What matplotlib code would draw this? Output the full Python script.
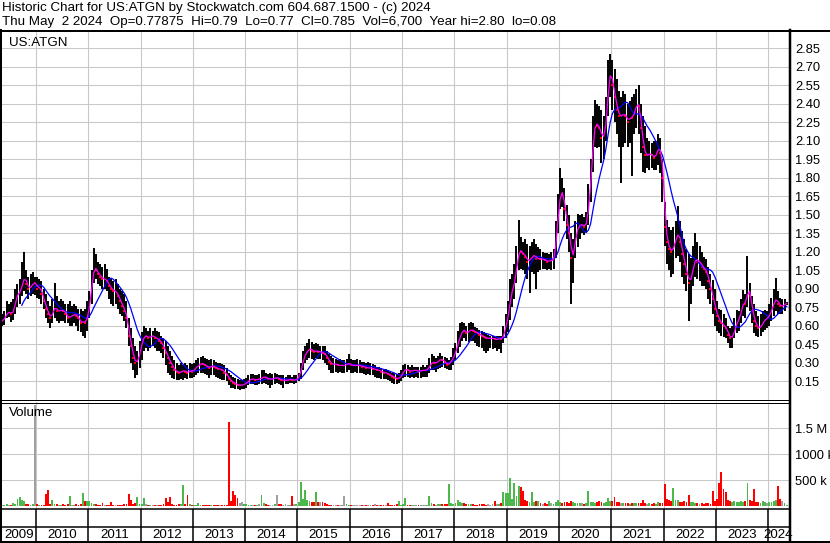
import numpy as np
import pandas as pd
import matplotlib
matplotlib.use("Agg")
import matplotlib.pyplot as plt

plt.rcParams['font.family'] = ['Liberation Sans', 'DejaVu Sans']

# Semi-monthly bars (1st / 2nd half of each month), May 2009 .. May 2024
first_period = 2009 + 4 / 12  # May 2009

high = [
    0.70, 0.72, 0.80, 0.78, 0.79, 0.82, 0.90, 0.94, 0.98, 1.12, 1.20, 1.05, 1.00, 1.02, 1.04, 1.00,  # 2009
    1.00, 0.98, 0.96, 0.90, 0.86, 0.80, 0.76, 0.82, 0.95, 0.84, 0.80, 0.82, 0.80, 0.78, 0.78, 0.80, 0.76, 0.78, 0.76, 0.74, 0.74, 0.72, 0.74, 0.80,  # 2010
    0.88, 1.05, 1.23, 1.18, 1.12, 1.10, 1.08, 1.10, 1.06, 1.00, 0.98, 0.96, 0.98, 0.94, 0.90, 0.88, 0.86, 0.80, 0.66, 0.58, 0.50, 0.44, 0.40, 0.48,  # 2011
    0.55, 0.60, 0.58, 0.56, 0.58, 0.56, 0.58, 0.56, 0.55, 0.52, 0.50, 0.48, 0.44, 0.40, 0.36, 0.32, 0.30, 0.28, 0.30, 0.28, 0.30, 0.28, 0.30, 0.29,  # 2012
    0.30, 0.32, 0.34, 0.35, 0.36, 0.34, 0.33, 0.32, 0.33, 0.32, 0.31, 0.30, 0.30, 0.29, 0.28, 0.26, 0.22, 0.20, 0.19, 0.18, 0.17, 0.16, 0.16, 0.17,  # 2013
    0.18, 0.20, 0.21, 0.21, 0.20, 0.20, 0.21, 0.24, 0.24, 0.22, 0.21, 0.22, 0.21, 0.22, 0.21, 0.20, 0.20, 0.20, 0.19, 0.20, 0.20, 0.19, 0.20, 0.20,  # 2014
    0.22, 0.30, 0.40, 0.44, 0.46, 0.49, 0.47, 0.45, 0.46, 0.45, 0.44, 0.44, 0.44, 0.40, 0.37, 0.36, 0.34, 0.33, 0.32, 0.33, 0.32, 0.32, 0.33, 0.37,  # 2015
    0.33, 0.32, 0.32, 0.33, 0.32, 0.31, 0.31, 0.30, 0.31, 0.30, 0.29, 0.28, 0.27, 0.27, 0.26, 0.25, 0.25, 0.24, 0.23, 0.22, 0.22, 0.21, 0.22, 0.24,  # 2016
    0.28, 0.29, 0.28, 0.27, 0.28, 0.27, 0.27, 0.27, 0.27, 0.28, 0.27, 0.28, 0.34, 0.37, 0.36, 0.34, 0.36, 0.38, 0.36, 0.35, 0.34, 0.32, 0.35, 0.42,  # 2017
    0.46, 0.56, 0.62, 0.63, 0.62, 0.60, 0.62, 0.63, 0.62, 0.59, 0.58, 0.57, 0.56, 0.55, 0.54, 0.53, 0.52, 0.52, 0.51, 0.52, 0.52, 0.52, 0.60, 0.70,  # 2018
    0.80, 0.98, 1.02, 1.10, 1.25, 1.46, 1.32, 1.28, 1.30, 1.26, 1.25, 1.28, 1.30, 1.26, 1.24, 1.22, 1.20, 1.19, 1.19, 1.18, 1.20, 1.22, 1.45, 1.67,  # 2019
    1.88, 1.80, 1.72, 1.58, 1.50, 1.35, 1.30, 1.45, 1.51, 1.50, 1.51, 1.48, 1.52, 1.75, 1.95, 2.30, 2.43, 2.40, 2.38, 2.35, 2.30, 2.45, 2.75, 2.80,  # 2020
    2.75, 2.68, 2.60, 2.50, 2.45, 2.50, 2.48, 2.40, 2.42, 2.45, 2.48, 2.52, 2.55, 2.40, 2.30, 2.22, 2.12, 2.10, 2.08, 2.10, 2.10, 2.15, 2.12, 1.95,  # 2021
    1.60, 1.46, 1.40, 1.38, 1.40, 1.45, 1.57, 1.45, 1.37, 1.30, 1.22, 1.18, 1.15, 1.25, 1.35, 1.28, 1.25, 1.20, 1.16, 1.14, 1.08, 1.02, 0.97, 0.90,  # 2022
    0.80, 0.74, 0.73, 0.70, 0.66, 0.60, 0.58, 0.60, 0.66, 0.73, 0.72, 0.82, 0.89, 0.86, 1.17, 0.95, 0.84, 0.78, 0.72, 0.68, 0.70, 0.72, 0.73, 0.72,  # 2023
    0.78, 0.83, 0.90, 0.99, 0.88, 0.83, 0.82, 0.82, 0.79,  # 2024
]

low = [
    0.60, 0.61, 0.66, 0.67, 0.63, 0.65, 0.70, 0.75, 0.78, 0.84, 0.88, 0.86, 0.82, 0.84, 0.86, 0.85,  # 2009
    0.83, 0.82, 0.78, 0.74, 0.66, 0.62, 0.58, 0.62, 0.66, 0.64, 0.62, 0.64, 0.64, 0.62, 0.62, 0.60, 0.60, 0.62, 0.60, 0.56, 0.55, 0.52, 0.50, 0.56,  # 2010
    0.66, 0.78, 0.95, 0.98, 0.94, 0.92, 0.90, 0.90, 0.88, 0.82, 0.78, 0.76, 0.78, 0.74, 0.70, 0.68, 0.64, 0.58, 0.44, 0.30, 0.24, 0.18, 0.20, 0.26,  # 2011
    0.32, 0.40, 0.42, 0.40, 0.42, 0.44, 0.42, 0.40, 0.40, 0.38, 0.34, 0.28, 0.22, 0.20, 0.18, 0.17, 0.16, 0.16, 0.17, 0.16, 0.18, 0.17, 0.18, 0.18,  # 2012
    0.19, 0.20, 0.22, 0.22, 0.22, 0.21, 0.20, 0.18, 0.20, 0.20, 0.19, 0.18, 0.17, 0.16, 0.16, 0.15, 0.12, 0.10, 0.10, 0.09, 0.09, 0.08, 0.09, 0.09,  # 2013
    0.10, 0.12, 0.13, 0.13, 0.12, 0.12, 0.13, 0.13, 0.14, 0.13, 0.12, 0.10, 0.12, 0.13, 0.14, 0.13, 0.12, 0.10, 0.13, 0.13, 0.14, 0.14, 0.13, 0.14,  # 2014
    0.15, 0.17, 0.24, 0.30, 0.32, 0.34, 0.33, 0.32, 0.34, 0.33, 0.33, 0.32, 0.30, 0.28, 0.24, 0.22, 0.22, 0.23, 0.22, 0.23, 0.22, 0.22, 0.23, 0.24,  # 2015
    0.22, 0.22, 0.23, 0.22, 0.22, 0.22, 0.21, 0.20, 0.21, 0.20, 0.20, 0.19, 0.18, 0.18, 0.17, 0.17, 0.17, 0.16, 0.15, 0.14, 0.13, 0.13, 0.14, 0.15,  # 2016
    0.18, 0.19, 0.19, 0.18, 0.19, 0.18, 0.19, 0.18, 0.18, 0.19, 0.19, 0.19, 0.22, 0.24, 0.24, 0.23, 0.25, 0.26, 0.27, 0.26, 0.25, 0.24, 0.24, 0.28,  # 2017
    0.32, 0.38, 0.43, 0.48, 0.50, 0.48, 0.47, 0.48, 0.48, 0.46, 0.44, 0.43, 0.42, 0.40, 0.38, 0.40, 0.42, 0.41, 0.42, 0.40, 0.41, 0.38, 0.46, 0.50,  # 2018
    0.55, 0.65, 0.75, 0.82, 0.95, 1.05, 1.06, 1.05, 1.02, 0.98, 0.87, 1.04, 1.02, 0.90, 1.04, 1.05, 1.06, 1.06, 1.05, 1.06, 1.05, 1.06, 1.15, 1.35,  # 2019
    1.55, 1.56, 1.45, 1.30, 1.20, 0.78, 0.95, 1.15, 1.24, 1.30, 1.35, 1.34, 1.36, 1.42, 1.60, 1.85, 2.05, 2.04, 2.05, 1.92, 1.95, 2.10, 2.30, 2.45,  # 2020
    2.35, 2.25, 2.15, 2.05, 1.76, 2.05, 2.08, 2.05, 2.08, 1.81, 2.15, 2.20, 2.15, 2.00, 1.85, 1.84, 1.88, 1.86, 1.88, 1.86, 1.86, 1.90, 1.84, 1.60,  # 2021
    1.25, 1.10, 1.05, 1.00, 1.02, 1.15, 1.17, 1.12, 1.00, 0.94, 0.88, 0.64, 0.78, 0.92, 1.00, 0.98, 0.96, 0.92, 0.92, 0.90, 0.82, 0.78, 0.70, 0.60,  # 2022
    0.56, 0.54, 0.52, 0.51, 0.50, 0.46, 0.42, 0.42, 0.50, 0.54, 0.56, 0.62, 0.68, 0.66, 0.75, 0.72, 0.62, 0.54, 0.52, 0.51, 0.52, 0.55, 0.57, 0.58,  # 2023
    0.60, 0.64, 0.68, 0.72, 0.70, 0.70, 0.70, 0.72, 0.77,  # 2024
]

close = [
    0.64, 0.67, 0.71, 0.71, 0.70, 0.72, 0.83, 0.86, 0.88, 0.95, 1.00, 0.94, 0.90, 0.92, 0.95, 0.95,  # 2009
    0.90, 0.92, 0.86, 0.80, 0.74, 0.70, 0.66, 0.72, 0.76, 0.72, 0.72, 0.73, 0.72, 0.70, 0.66, 0.68, 0.68, 0.70, 0.68, 0.66, 0.62, 0.64, 0.62, 0.70,  # 2010
    0.80, 0.98, 1.08, 1.05, 1.02, 1.00, 0.98, 0.98, 0.96, 0.92, 0.90, 0.88, 0.88, 0.84, 0.80, 0.76, 0.72, 0.66, 0.52, 0.44, 0.34, 0.30, 0.32, 0.40,  # 2011
    0.48, 0.52, 0.52, 0.50, 0.52, 0.52, 0.50, 0.50, 0.48, 0.46, 0.42, 0.38, 0.34, 0.30, 0.27, 0.24, 0.23, 0.22, 0.23, 0.24, 0.23, 0.22, 0.24, 0.23,  # 2012
    0.25, 0.27, 0.28, 0.30, 0.29, 0.28, 0.27, 0.26, 0.28, 0.27, 0.26, 0.25, 0.25, 0.24, 0.22, 0.20, 0.17, 0.15, 0.14, 0.13, 0.12, 0.12, 0.12, 0.13,  # 2013
    0.14, 0.16, 0.17, 0.17, 0.16, 0.17, 0.17, 0.18, 0.19, 0.18, 0.17, 0.17, 0.17, 0.18, 0.18, 0.17, 0.16, 0.16, 0.16, 0.16, 0.17, 0.16, 0.16, 0.17,  # 2014
    0.19, 0.26, 0.34, 0.38, 0.40, 0.42, 0.40, 0.39, 0.40, 0.39, 0.39, 0.38, 0.37, 0.34, 0.31, 0.29, 0.29, 0.29, 0.28, 0.28, 0.28, 0.28, 0.29, 0.30,  # 2015
    0.28, 0.28, 0.28, 0.28, 0.28, 0.27, 0.27, 0.26, 0.26, 0.26, 0.25, 0.25, 0.24, 0.24, 0.23, 0.22, 0.22, 0.21, 0.20, 0.19, 0.18, 0.17, 0.18, 0.20,  # 2016
    0.24, 0.25, 0.24, 0.23, 0.24, 0.24, 0.24, 0.23, 0.24, 0.24, 0.24, 0.25, 0.28, 0.31, 0.30, 0.30, 0.32, 0.33, 0.32, 0.31, 0.28, 0.30, 0.32, 0.36,  # 2017
    0.40, 0.48, 0.52, 0.57, 0.56, 0.54, 0.56, 0.57, 0.56, 0.55, 0.54, 0.53, 0.52, 0.51, 0.50, 0.50, 0.50, 0.50, 0.49, 0.49, 0.50, 0.49, 0.54, 0.62,  # 2018
    0.70, 0.85, 0.90, 0.98, 1.12, 1.22, 1.20, 1.18, 1.16, 1.12, 1.14, 1.16, 1.18, 1.14, 1.15, 1.14, 1.14, 1.13, 1.12, 1.13, 1.13, 1.14, 1.35, 1.55,  # 2019
    1.70, 1.66, 1.55, 1.42, 1.35, 1.15, 1.20, 1.35, 1.40, 1.42, 1.42, 1.40, 1.45, 1.62, 1.85, 2.15, 2.25, 2.22, 2.20, 2.12, 2.15, 2.30, 2.60, 2.65,  # 2020
    2.55, 2.45, 2.35, 2.30, 2.30, 2.32, 2.30, 2.25, 2.30, 2.28, 2.35, 2.40, 2.38, 2.20, 2.05, 1.98, 1.98, 2.00, 1.98, 1.96, 2.00, 2.05, 2.00, 1.80,  # 2021
    1.40, 1.28, 1.22, 1.20, 1.25, 1.32, 1.35, 1.28, 1.18, 1.10, 1.02, 0.95, 1.00, 1.10, 1.15, 1.12, 1.12, 1.08, 1.06, 1.04, 0.96, 0.90, 0.82, 0.74,  # 2022
    0.68, 0.64, 0.62, 0.60, 0.58, 0.53, 0.50, 0.52, 0.58, 0.64, 0.66, 0.74, 0.80, 0.78, 0.92, 0.84, 0.72, 0.64, 0.60, 0.58, 0.60, 0.63, 0.66, 0.66,  # 2023
    0.70, 0.74, 0.80, 0.82, 0.78, 0.76, 0.76, 0.78, 0.785,  # 2024
]

# peak daily volume in each half month, thousands of shares
volume = [
    30, 25, 40, 30, 35, 60, 40, 150, 190, 120, 100, 50, 40, 35, 45, 1950,  # 2009
    40, 35, 30, 30, 240, 313, 40, 120, 50, 40, 35, 30, 45, 30, 40, 200, 30, 35, 40, 30, 50, 262, 100, 100,  # 2010
    100, 60, 50, 40, 35, 30, 60, 30, 25, 30, 85, 30, 25, 30, 30, 25, 40, 50, 230, 120, 50, 60, 190, 50,  # 2011
    40, 170, 40, 35, 30, 30, 35, 30, 30, 25, 40, 160, 90, 175, 40, 35, 30, 40, 50, 410, 50, 220, 40, 35,  # 2012
    30, 25, 60, 30, 25, 30, 25, 20, 25, 20, 30, 25, 20, 30, 25, 30, 1630, 100, 290, 220, 160, 60, 80, 50,  # 2013
    40, 35, 30, 30, 25, 30, 40, 220, 60, 40, 30, 35, 30, 40, 220, 40, 50, 30, 40, 30, 35, 200, 40, 50,  # 2014
    80, 460, 150, 310, 120, 100, 90, 80, 270, 80, 80, 80, 70, 40, 30, 35, 30, 25, 30, 25, 30, 200, 40, 30,  # 2015
    30, 25, 30, 20, 25, 20, 25, 20, 25, 20, 25, 50, 20, 25, 20, 25, 30, 70, 25, 30, 35, 40, 100, 30,  # 2016
    40, 170, 30, 25, 30, 25, 30, 25, 30, 25, 30, 35, 198, 60, 40, 35, 40, 45, 50, 40, 50, 423, 60, 50,  # 2017
    60, 130, 80, 60, 70, 50, 45, 40, 40, 35, 35, 40, 45, 40, 35, 40, 35, 40, 110, 40, 45, 60, 270, 250,  # 2018
    250, 538, 150, 450, 200, 400, 380, 300, 120, 100, 80, 270, 90, 100, 100, 60, 50, 60, 50, 100, 60, 50, 80, 130,  # 2019
    80, 70, 90, 80, 70, 100, 80, 70, 60, 70, 60, 50, 60, 290, 80, 90, 70, 80, 110, 90, 70, 80, 170, 100,  # 2020
    100, 190, 90, 80, 70, 60, 70, 60, 50, 60, 70, 60, 70, 60, 120, 60, 50, 60, 50, 60, 50, 80, 60, 70,  # 2021
    423, 150, 120, 100, 360, 130, 120, 90, 80, 100, 90, 220, 90, 80, 70, 60, 50, 60, 50, 70, 60, 50, 290, 100,  # 2022
    150, 440, 654, 330, 270, 120, 100, 90, 100, 80, 90, 100, 90, 100, 440, 120, 100, 330, 90, 80, 70, 110, 80, 70,  # 2023
    80, 90, 100, 120, 400, 150, 110, 70, 30,  # 2024
]

price_ticks = [0.15, 0.30, 0.45, 0.60, 0.75, 0.90, 1.05, 1.20, 1.35, 1.50, 1.65, 1.80,
               1.95, 2.10, 2.25, 2.40, 2.55, 2.70, 2.85]
volume_ticks = [500, 1000, 1500]
volume_labels = ["500 k", "1000 k", "1.5 M"]
years = list(range(2009, 2025))

line1 = "Historic Chart for US:ATGN by Stockwatch.com 604.687.1500 - (c) 2024"
line2 = ("Thu May  2 2024  Op=0.77875  Hi=0.79  Lo=0.77  Cl=0.785  "
         "Vol=6,700  Year hi=2.80  lo=0.08")

# ---------------------------------------------------------------
df = pd.DataFrame({"high": high, "low": low, "close": close, "vol": volume})
df["t"] = first_period + (np.arange(len(df)) + 0.5) / 24
df["ma_short"] = df["close"].rolling(2, min_periods=1).mean()
df["ma_long"] = df["close"].rolling(10).mean()
chg = df["close"].diff().fillna(0)
vol_colors = np.where(chg > 0, "#4cb84c", np.where(chg < 0, "#ff0000", "#a0a0a0"))
down = chg < 0

W, H = 830, 543
fig = plt.figure(figsize=(W / 100, H / 100), dpi=100)
fig.patch.set_facecolor("white")


def box(x0, y0, x1, y1):
    return [x0 / W, 1 - y1 / H, (x1 - x0) / W, (y1 - y0) / H]


xlim = (2009.350, 2024.398)
grid_color = "#c8c8c8"
fs = 9.6

# price panel
ax = fig.add_axes(box(2, 31, 789, 400))
ax.set_xlim(*xlim)
ax.set_ylim(0, 2.988)
ax.set_xticks(years[1:])
ax.set_yticks(price_ticks)
ax.set_yticklabels([f"{v:.2f}" for v in price_ticks])
ax.yaxis.tick_right()
ax.tick_params(axis="y", length=0, pad=4.3, labelsize=9.3)
ax.tick_params(axis="x", length=0, labelbottom=False)
ax.grid(True, color=grid_color, lw=0.75)
ax.set_axisbelow(True)
for s in ax.spines.values():
    s.set_visible(False)

ax.vlines(df["t"], df["low"], df["high"], color="black", lw=1.4, zorder=2)
ax.plot(df["t"][down], df["close"][down], "s", color="#ff0000", ms=1.7,
        mew=0, zorder=3)
ax.plot(df["t"], df["ma_long"], color="#0000ff", lw=0.9, zorder=4)
ax.plot(df["t"], df["ma_short"], color="#ff00ff", lw=0.9, zorder=5)
ax.text(7 / 787, 1 - 12 / 369, "US:ATGN", transform=ax.transAxes,
        fontsize=fs, va="center", ha="left")

# volume panel
axv = fig.add_axes(box(2, 402, 789, 509))
axv.set_xlim(*xlim)
axv.set_ylim(-50, 2006)
axv.set_xticks(years[1:])
axv.set_yticks(volume_ticks)
axv.set_yticklabels(volume_labels)
axv.yaxis.tick_right()
axv.tick_params(axis="y", length=0, pad=4.3, labelsize=9.3)
axv.tick_params(axis="x", length=0, labelbottom=False)
axv.grid(True, color=grid_color, lw=0.75)
axv.set_axisbelow(True)
for s in axv.spines.values():
    s.set_visible(False)
axv.bar(df["t"], df["vol"], width=0.85 / 24, color=vol_colors, lw=0, zorder=2)
axv.text(7 / 787, 1 - 11 / 107, "Volume", transform=axv.transAxes,
         fontsize=fs, va="center", ha="left")

# year strip
axx = fig.add_axes(box(2, 509, 789, 542))
axx.set_xlim(*xlim)
axx.set_ylim(0, 1)
axx.axis("off")
axx.vlines(years[1:], 0, 1, color="black", lw=1.1)
for y in years:
    a, b = max(y, xlim[0]), min(y + 1, xlim[1])
    axx.text((a + b) / 2, 0.22, str(y), ha="center", va="center", fontsize=fs)

# frame lines, pixel coordinates
fr = fig.add_axes([0, 0, 1, 1])
fr.set_xlim(0, W)
fr.set_ylim(H, 0)
fr.axis("off")
px = 0.72
fr.plot([0, W], [30.5, 30.5], color="black", lw=2 * px)
fr.plot([1, 1], [30, H], color="black", lw=2 * px)
fr.plot([789.5, 789.5], [30, H], color="black", lw=2.5 * px)
fr.plot([0, 789], [400, 400], color="black", lw=1 * px)
fr.plot([0, 789], [402.5, 402.5], color="black", lw=1 * px)
fr.plot([0, 789], [509, 509], color="black", lw=1.5 * px)
fr.plot([0, 789], [527, 527], color="black", lw=1.5 * px)
fr.plot([0, W], [542, 542], color="black", lw=2 * px)

fig.text(2 / W, 1 - 11 / H, line1, fontsize=fs, va="baseline", ha="left")
fig.text(2 / W, 1 - 25 / H, line2, fontsize=fs, va="baseline", ha="left")

fig.savefig("out.png", dpi=100)
